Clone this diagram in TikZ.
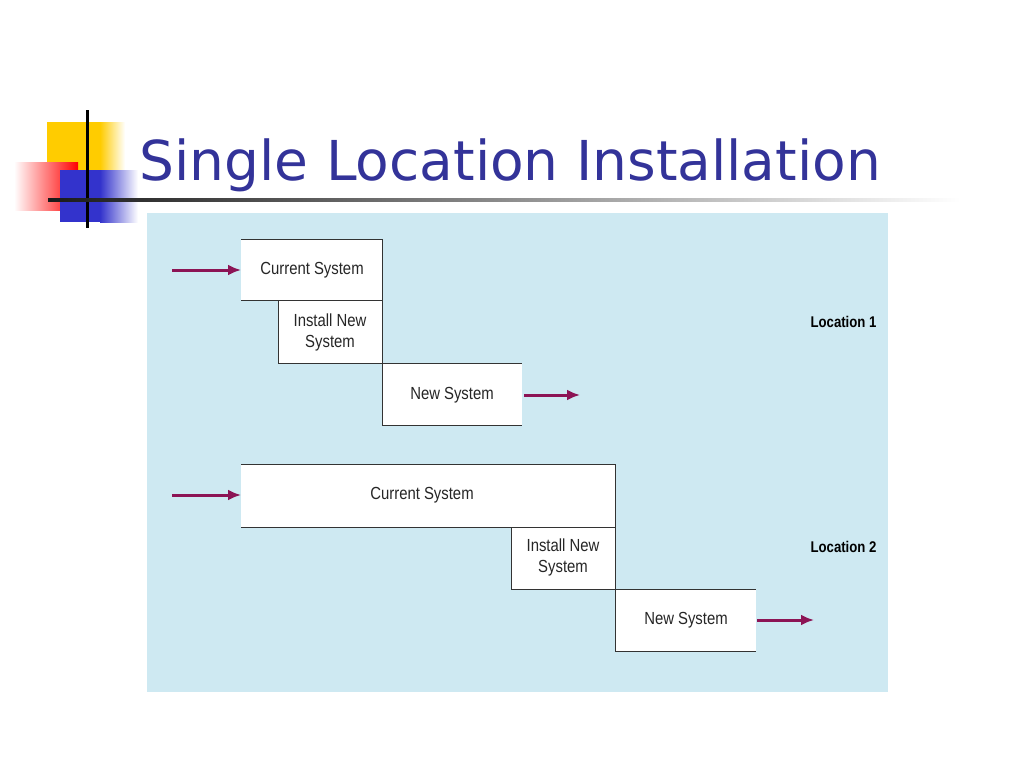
\documentclass[tikz,border=0pt]{standalone}
\usepackage{fontspec}
\usetikzlibrary{arrows.meta}
\setmainfont{Liberation Sans}
\newfontfamily\titlefont{DejaVu Sans}
\definecolor{titleblue}{RGB}{51,51,153}
\definecolor{bgblue}{RGB}{206,233,242}
\definecolor{maroon}{RGB}{140,20,85}
\definecolor{logoyellow}{RGB}{255,204,0}
\definecolor{logoblue}{RGB}{51,51,204}
\begin{document}
\begin{tikzpicture}[x=1pt,y=-1pt,
  ln/.style={draw=black!80,line width=1pt},
  arr/.style={draw=maroon,line width=3pt,-{Latex[length=13pt,width=11pt]}},
  txt/.style={font=\fontsize{17.5}{21}\selectfont\addfontfeature{FakeStretch=0.85},text=black!85,align=center},
  loc/.style={font=\bfseries\fontsize{15.5}{18}\selectfont\addfontfeature{FakeStretch=0.85},anchor=east}]
\useasboundingbox (0,0) rectangle (1024,768);
% logo
\fill[logoyellow] (47,122) rectangle (100,170);
\shade[left color=logoyellow,right color=white] (100,122) rectangle (125,170);
\shade[left color=white,right color=red] (14,162) rectangle (78,210);
\fill[logoblue] (60,170) rectangle (100,222);
\shade[left color=logoblue,right color=white] (100,170) rectangle (138,222);
\draw[line width=3pt] (87,110) -- (87,228);
\shade[left color=black!90,right color=white] (48,198.5) rectangle (960,201.5);
\node[font=\titlefont\fontsize{55}{62}\selectfont,text=titleblue,anchor=base west] (title) at (136,180) {Single Location Installation};
% background
\fill[bgblue] (147,213) rectangle (888,692);
% Location 1
\fill[white] (241,239) rectangle (382,300);
\fill[white] (278,300) rectangle (382,363);
\fill[white] (382,363) rectangle (522,425);
\draw[ln] (241,239) -- (382,239) -- (382,425);
\draw[ln] (241,300) -- (382,300);
\draw[ln] (278,300) -- (278,363) -- (522,363);
\draw[ln] (382,425) -- (522,425);
\node[txt] (c1) at (312,270) {Current System};
\node[txt] (i1) at (330,332) {Install New\\System};
\node[txt] (n1) at (452,395) {New System};
\coordinate (s1) at (172,270);
\coordinate (e1) at (580,395);
\draw[arr] (s1) -- (c1.west -| 241,270);
\draw[arr] (n1.east -| 524,395) -- (e1);
\node[loc] (l1) at (880,322) {Location 1};
% Location 2
\fill[white] (241,464) rectangle (615,527);
\fill[white] (511,527) rectangle (615,589);
\fill[white] (615,589) rectangle (756,651);
\draw[ln] (241,464) -- (615,464) -- (615,651);
\draw[ln] (241,527) -- (615,527);
\draw[ln] (511,527) -- (511,589) -- (756,589);
\draw[ln] (615,651) -- (756,651);
\node[txt] (c2) at (422,495) {Current System};
\node[txt] (i2) at (563,557) {Install New\\System};
\node[txt] (n2) at (686,620) {New System};
\coordinate (s2) at (172,495);
\coordinate (e2) at (814,620);
\draw[arr] (s2) -- (c2.west -| 241,495);
\draw[arr] (n2.east -| 757,620) -- (e2);
\node[loc] (l2) at (880,547) {Location 2};
\end{tikzpicture}
\end{document}
